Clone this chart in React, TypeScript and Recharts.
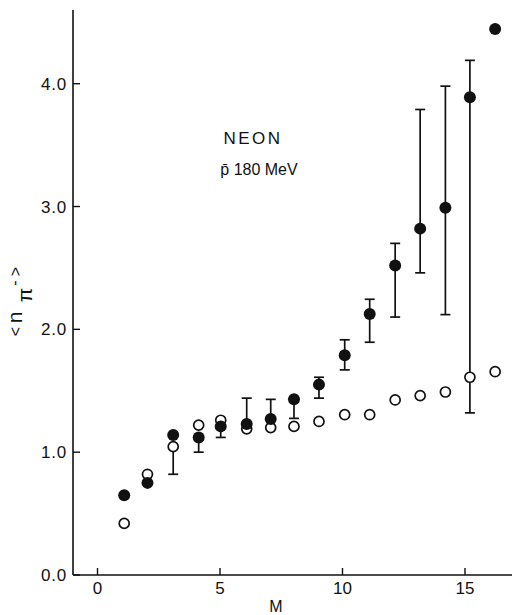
import React from "react";
import { ScatterChart, Scatter, XAxis, YAxis, ErrorBar } from "recharts";

// M (multiplicity) positions
const mValues = [1.09, 2.04, 3.09, 4.13, 5.03, 6.09, 7.07, 8.02, 9.04, 10.09, 11.11, 12.15, 13.17, 14.2, 15.2, 16.23];
// filled circles
const filledMean = [0.65, 0.75, 1.14, 1.12, 1.21, 1.23, 1.27, 1.43, 1.55, 1.79, 2.125, 2.52, 2.82, 2.99, 3.89, 4.445];
const filledLow: (number | null)[] = [null, null, null, 1.0, 1.12, null, null, 1.275, 1.44, 1.67, 1.895, 2.1, 2.46, 2.12, 1.32, null];
const filledHigh: (number | null)[] = [null, null, null, null, null, 1.44, 1.43, null, 1.61, 1.915, 2.245, 2.7, 3.79, 3.98, 4.19, null];
// open circles
const openMean = [0.42, 0.82, 1.045, 1.22, 1.26, 1.19, 1.2, 1.21, 1.25, 1.305, 1.305, 1.425, 1.46, 1.49, 1.61, 1.655];
const openLow: (number | null)[] = [null, null, 0.82, null, null, null, null, null, null, null, null, null, null, null, null, null];
const openHigh: (number | null)[] = [null, null, null, null, null, null, null, null, null, null, null, null, null, null, null, null];

const xTicks = [0, 5, 10, 15];
const yTicks = [0, 1, 2, 3, 4];

function build(mean: number[], low: (number | null)[], high: (number | null)[]) {
  return mValues.map((x, i) => {
    const lo = low[i];
    const hi = high[i];
    const err = lo == null && hi == null ? null : [lo == null ? 0 : mean[i] - lo, hi == null ? 0 : hi - mean[i]];
    return { x, y: mean[i], err };
  });
}

const filledData = build(filledMean, filledLow, filledHigh);
const openData = build(openMean, openLow, openHigh);

const INK = "#111";
const FONT = "'Liberation Sans', Arial, Helvetica, sans-serif";

const FilledDot = (p: any) => <circle cx={p.cx} cy={p.cy} r={6} fill={INK} />;
const OpenDot = (p: any) => <circle cx={p.cx} cy={p.cy} r={5} fill="#fff" stroke={INK} strokeWidth={1.7} />;

function Glyph({ x, y, size, ch }: { x: number; y: number; size: number; ch: string }) {
  return (
    <text x={x} y={y} transform={`rotate(-90 ${x} ${y})`} textAnchor="middle" fontSize={size} fontFamily={FONT} fill={INK}>
      {ch}
    </text>
  );
}

export default function App() {
  return (
    <div style={{ position: "absolute", left: 0, top: 0, width: 512, height: 615, overflow: "hidden", background: "#fff" }}>
      <ScatterChart width={530} height={615} margin={{ top: 10, right: 16, left: 0, bottom: 0 }}>
        <XAxis
          xAxisId="bottom"
          dataKey="x"
          type="number"
          domain={[-1, 17]}
          ticks={xTicks}
          interval={0}
          allowDataOverflow
          height={40}
          tickSize={-7}
          tickMargin={14}
          axisLine={{ stroke: INK, strokeWidth: 1.6 }}
          tickLine={{ stroke: INK, strokeWidth: 1.4 }}
          tick={{ fill: INK, fontSize: 17, fontFamily: FONT }}
        />
        <XAxis
          xAxisId="top"
          orientation="top"
          dataKey="x"
          type="number"
          domain={[-1, 17]}
          ticks={xTicks}
          interval={0}
          allowDataOverflow
          height={0}
          tickSize={-9}
          tick={false}
          axisLine={{ stroke: INK, strokeWidth: 1.6 }}
          tickLine={{ stroke: INK, strokeWidth: 1.4 }}
        />
        <YAxis
          yAxisId="left"
          dataKey="y"
          type="number"
          domain={[0, 4.6]}
          ticks={yTicks}
          interval={0}
          allowDataOverflow
          width={73}
          tickSize={-7}
          tickMargin={13}
          tickFormatter={(v: number) => v.toFixed(1)}
          axisLine={{ stroke: INK, strokeWidth: 1.6 }}
          tickLine={{ stroke: INK, strokeWidth: 1.4 }}
          tick={{ fill: INK, fontSize: 17, fontFamily: FONT, letterSpacing: 0.8 }}
        />
        <YAxis
          yAxisId="right"
          orientation="right"
          dataKey="y"
          type="number"
          domain={[0, 4.6]}
          ticks={yTicks}
          interval={0}
          allowDataOverflow
          width={0}
          tickSize={-7}
          tick={false}
          axisLine={false}
          tickLine={{ stroke: INK, strokeWidth: 1.4 }}
        />
        <Scatter
          data={openData}
          xAxisId="bottom"
          yAxisId="left"
          dataKey="y"
          shape={OpenDot}
          isAnimationActive={false}
        >
          <ErrorBar dataKey="err" direction="y" width={5} stroke={INK} strokeWidth={1.7} />
        </Scatter>
        <Scatter
          data={filledData}
          xAxisId="bottom"
          yAxisId="left"
          dataKey="y"
          shape={FilledDot}
          isAnimationActive={false}
        >
          <ErrorBar dataKey="err" direction="y" width={5} stroke={INK} strokeWidth={1.7} />
        </Scatter>
        <text x={253} y={144} textAnchor="middle" fontSize={17} fontFamily={FONT} fill={INK} letterSpacing={2.5}>
          NEON
        </text>
        <text x={259} y={175} textAnchor="middle" fontSize={16} fontFamily={FONT} fill={INK}>
          {"p\u0304 180 MeV"}
        </text>
        <text x={276} y={612} textAnchor="middle" fontSize={16} fontFamily={FONT} fill={INK}>
          M
        </text>
        <Glyph x={21} y={331.7} size={16} ch="<" />
        <Glyph x={21.7} y={317.5} size={21} ch="n" />
        <Glyph x={32} y={295} size={21} ch={"\u03c0"} />
        <Glyph x={20.3} y={283} size={16} ch="-" />
        <Glyph x={21} y={271.7} size={16} ch=">" />
      </ScatterChart>
    </div>
  );
}
